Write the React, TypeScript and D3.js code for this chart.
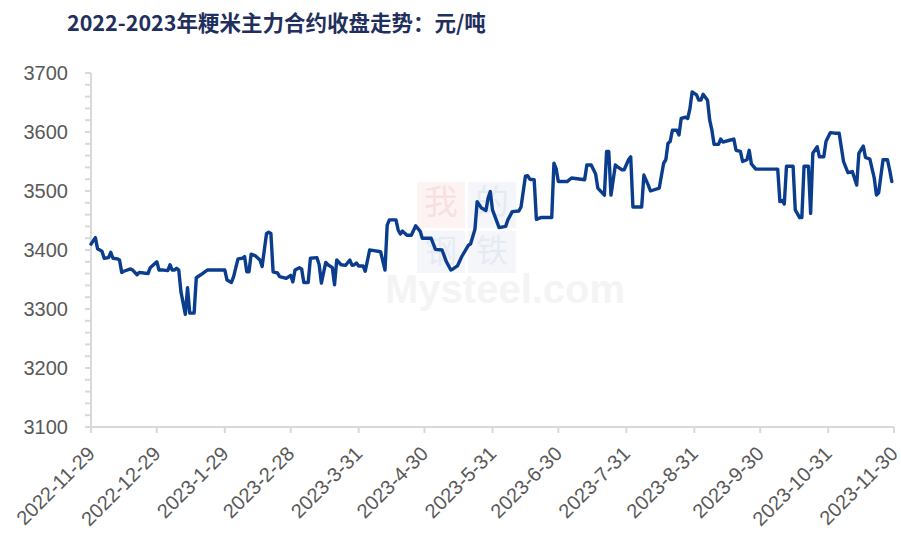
import React from "react";
import * as d3 from "d3";

const title = "2022-2023年粳米主力合约收盘走势：元/吨";

const dates = [
  "2022-11-29","2022-12-01","2022-12-02","2022-12-04","2022-12-05","2022-12-07","2022-12-08","2022-12-09","2022-12-11","2022-12-12",
  "2022-12-13","2022-12-14","2022-12-17","2022-12-18","2022-12-20","2022-12-21","2022-12-23","2022-12-25","2022-12-26","2022-12-29",
  "2022-12-30","2023-01-01","2023-01-03","2023-01-04","2023-01-05","2023-01-06","2023-01-07","2023-01-08","2023-01-09","2023-01-11",
  "2023-01-12","2023-01-13","2023-01-15","2023-01-16","2023-01-18","2023-01-21","2023-01-29","2023-01-30","2023-02-01","2023-02-02",
  "2023-02-04","2023-02-06","2023-02-07","2023-02-08","2023-02-09","2023-02-10","2023-02-12","2023-02-14","2023-02-15","2023-02-17",
  "2023-02-18","2023-02-19","2023-02-20","2023-02-22","2023-02-23","2023-02-26","2023-02-28","2023-03-01","2023-03-02","2023-03-04",
  "2023-03-05","2023-03-06","2023-03-08","2023-03-09","2023-03-12","2023-03-13","2023-03-14","2023-03-16","2023-03-17","2023-03-19",
  "2023-03-20","2023-03-21","2023-03-23","2023-03-25","2023-03-27","2023-03-28","2023-03-29","2023-03-30","2023-03-31","2023-04-02",
  "2023-04-03","2023-04-05","2023-04-07","2023-04-10","2023-04-12","2023-04-13","2023-04-14","2023-04-17","2023-04-18","2023-04-19",
  "2023-04-20","2023-04-22","2023-04-24","2023-04-26","2023-04-28","2023-04-29","2023-05-03","2023-05-05","2023-05-08","2023-05-10",
  "2023-05-12","2023-05-13","2023-05-15","2023-05-17","2023-05-20","2023-05-21","2023-05-23","2023-05-24","2023-05-26","2023-05-28",
  "2023-05-29","2023-05-30","2023-05-31","2023-06-02","2023-06-03","2023-06-06","2023-06-07","2023-06-09","2023-06-12","2023-06-13",
  "2023-06-15","2023-06-16","2023-06-17","2023-06-19","2023-06-20","2023-06-22","2023-06-27","2023-06-28","2023-06-29","2023-06-30",
  "2023-07-04","2023-07-06","2023-07-12","2023-07-13","2023-07-15","2023-07-17","2023-07-18","2023-07-21","2023-07-22","2023-07-23",
  "2023-07-24","2023-07-26","2023-07-27","2023-07-29","2023-07-30","2023-08-01","2023-08-02","2023-08-03","2023-08-07","2023-08-08",
  "2023-08-10","2023-08-11","2023-08-15","2023-08-17","2023-08-18","2023-08-19","2023-08-20","2023-08-21","2023-08-23","2023-08-24",
  "2023-08-25","2023-08-27","2023-08-28","2023-08-29","2023-08-30","2023-09-01","2023-09-02","2023-09-03","2023-09-04","2023-09-06",
  "2023-09-07","2023-09-08","2023-09-09","2023-09-11","2023-09-12","2023-09-13","2023-09-16","2023-09-18","2023-09-19","2023-09-21",
  "2023-09-22","2023-09-24","2023-09-25","2023-09-26","2023-09-28","2023-10-08","2023-10-09","2023-10-10","2023-10-11","2023-10-12",
  "2023-10-15","2023-10-16","2023-10-18","2023-10-19","2023-10-20","2023-10-22","2023-10-23","2023-10-24","2023-10-26","2023-10-27",
  "2023-10-29","2023-10-30","2023-11-01","2023-11-03","2023-11-05","2023-11-07","2023-11-09","2023-11-11","2023-11-13","2023-11-14",
  "2023-11-16","2023-11-17","2023-11-19","2023-11-21","2023-11-22","2023-11-23","2023-11-25","2023-11-27","2023-11-28","2023-11-29"
];

const values = [
  3410,3421,3402,3398,3386,3387,3396,3386,3385,3383,
  3362,3364,3368,3366,3358,3362,3361,3360,3370,3380,
  3366,3366,3365,3375,3366,3366,3369,3366,3329,3291,
  3336,3293,3293,3353,3358,3366,3366,3349,3345,3355,
  3385,3386,3389,3363,3363,3393,3390,3383,3372,3428,
  3430,3428,3363,3361,3355,3352,3357,3346,3366,3370,
  3368,3345,3345,3386,3387,3375,3344,3379,3375,3370,
  3341,3383,3375,3374,3383,3374,3375,3378,3373,3373,
  3364,3400,3399,3397,3366,3442,3451,3451,3434,3427,
  3432,3425,3425,3441,3432,3420,3420,3401,3400,3380,
  3366,3368,3373,3389,3408,3410,3435,3482,3471,3467,
  3488,3499,3468,3448,3438,3440,3451,3465,3466,3473,
  3525,3526,3520,3519,3452,3455,3455,3547,3538,3516,
  3516,3522,3519,3544,3544,3529,3505,3493,3567,3567,
  3493,3544,3541,3536,3536,3553,3558,3473,3473,3527,
  3510,3500,3505,3547,3553,3581,3584,3603,3603,3595,
  3623,3625,3623,3640,3668,3663,3654,3654,3664,3654,
  3620,3603,3579,3579,3588,3583,3586,3588,3569,3567,
  3550,3553,3569,3546,3537,3537,3482,3484,3478,3542,
  3542,3468,3455,3455,3542,3542,3462,3564,3575,3558,
  3558,3584,3599,3598,3598,3550,3531,3533,3510,3564,
  3576,3557,3554,3522,3493,3497,3553,3553,3536,3516
];

const yTickValues = [3100, 3200, 3300, 3400, 3500, 3600, 3700];
const yMinorStep = 20;
const xTickLabels = [
  "2022-11-29","2022-12-29","2023-1-29","2023-2-28","2023-3-31","2023-4-30","2023-5-31",
  "2023-6-30","2023-7-31","2023-8-31","2023-9-30","2023-10-31","2023-11-30"
];

const toDate = (s: string) => {
  const [yy, mm, dd] = s.split("-").map(Number);
  return new Date(yy, mm - 1, dd);
};

export default function App() {
  const W = 901, H = 539;
  const x = d3.scaleTime()
    .domain([toDate(xTickLabels[0]), toDate(xTickLabels[xTickLabels.length - 1])])
    .range([91, 894]);
  const y = d3.scaleLinear().domain([3100, 3700]).range([427, 73]);
  const minor = d3.range(yTickValues[0], yTickValues[yTickValues.length - 1] + 0.1, yMinorStep);
  const pts: [Date, number][] = dates.map((s, i) => [toDate(s), values[i]]);
  const linePath = d3.line<[Date, number]>().x(d => x(d[0])).y(d => y(d[1]))(pts) || "";
  const axisColor = "#d9d9d9";
  const labelColor = "#595959";
  const font = "'Liberation Sans', Arial, sans-serif";

  return (
    <svg width={W} height={H} style={{ position: "absolute", left: 0, top: 0, background: "#fff" }}>
      <rect x={0} y={0} width={W} height={H} fill="#ffffff" />
      {/* watermark */}
      <g opacity={0.4}>
        <rect x={417} y={182} width={48} height={46} fill="#fbe3e3" />
        <text x={441} y={214} textAnchor="middle" fontSize={34} fill="#f2b3b3" fontFamily="'Noto Sans CJK SC'">我</text>
        <rect x={468} y={182} width={48} height={46} fill="#e6ebf5" />
        <text x={492} y={214} textAnchor="middle" fontSize={34} fill="#c3cde3" fontFamily="'Noto Sans CJK SC'">的</text>
        <rect x={417} y={231} width={48} height={42} fill="#e6ebf5" />
        <text x={441} y={262} textAnchor="middle" fontSize={32} fill="#c3cde3" fontFamily="'Noto Sans CJK SC'">钢</text>
        <rect x={468} y={231} width={48} height={42} fill="#e6ebf5" />
        <text x={492} y={262} textAnchor="middle" fontSize={32} fill="#c3cde3" fontFamily="'Noto Sans CJK SC'">铁</text>
        <text x={385} y={303} fontSize={40} fontWeight="bold" fill="#e6e6e6" fontFamily={font}>Mysteel.com</text>
      </g>

      {/* title */}
      <text x={67} y={31} fontSize={21.5} fontWeight="bold" fill="#1f2f5e" fontFamily="'Noto Sans CJK SC', sans-serif">{title}</text>

      {/* y axis */}
      <line x1={91} x2={91} y1={y(3700)} y2={y(3100)} stroke={axisColor} strokeWidth={2} />
      {minor.map(v => (
        <line key={"m" + v} x1={85} x2={91} y1={y(v)} y2={y(v)} stroke={axisColor} strokeWidth={2} />
      ))}
      {yTickValues.map(v => (
        <text key={"yl" + v} x={68} y={y(v)} dy="0.35em" textAnchor="end" fontSize={20} fill={labelColor} fontFamily={font}>{v}</text>
      ))}

      {/* x axis */}
      <line x1={91} x2={894} y1={427} y2={427} stroke={axisColor} strokeWidth={2} />
      {xTickLabels.map(s => {
        const px = x(toDate(s));
        return (
          <g key={"x" + s}>
            <line x1={px} x2={px} y1={427} y2={433} stroke={axisColor} strokeWidth={2} />
            <text transform={`translate(${px + 5},455) rotate(-45)`} textAnchor="end" fontSize={20} fill={labelColor} fontFamily={font}>{s}</text>
          </g>
        );
      })}

      {/* line */}
      <path d={linePath} fill="none" stroke="#0b3d8e" strokeWidth={3.4} strokeLinejoin="round" strokeLinecap="round" />
    </svg>
  );
}
